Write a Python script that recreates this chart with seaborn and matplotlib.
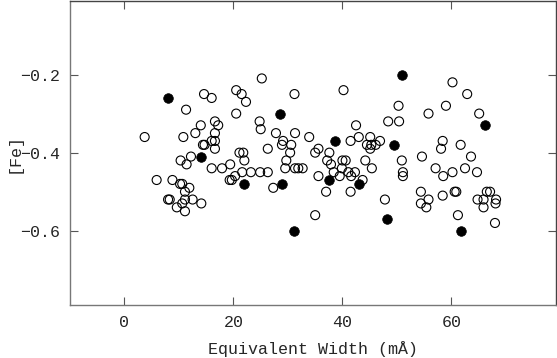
import matplotlib
matplotlib.use('Agg')
import matplotlib.pyplot as plt
import seaborn as sns
import pandas as pd

# open circles
open_x = [3.7, 5.9, 8.8, 10.2, 10.6, 11.9, 11.1, 8.0, 8.3, 11.1, 12.5, 10.6, 9.6, 14.1, 11.1,
          10.3, 11.4, 12.2, 10.8, 11.3, 13.0, 14.0, 14.6, 16.0, 16.6, 17.2, 16.6, 16.0, 16.6,
          14.4, 14.7, 16.6, 16.0, 17.9, 19.4, 19.3, 19.7, 20.3, 21.1, 21.8, 22.0, 21.6, 23.2,
          24.9, 26.3, 27.3, 20.5, 21.5, 22.3, 20.5, 25.2, 24.8, 25.0, 26.3, 27.8, 29.1, 28.9,
          30.6, 30.4, 29.7, 29.5, 31.3, 31.9, 32.7, 31.2, 31.3, 33.9, 35.6, 35.0, 37.6, 37.2,
          37.9, 35.6, 37.0, 35.0, 40.2, 42.5, 41.5, 43.0, 45.1, 46.9, 44.5, 45.3, 46.1, 45.1,
          40.0, 40.6, 44.2, 45.4, 39.9, 38.4, 41.1, 42.3, 39.5, 41.6, 43.7, 41.5, 47.8, 48.4,
          50.4, 50.3, 50.9, 51.1, 51.1, 54.6, 55.8, 54.4, 55.8, 54.4, 55.4, 58.1, 58.4, 57.1,
          58.5, 58.4, 59.0, 60.2, 62.9, 65.1, 61.7, 63.6, 62.5, 60.2, 64.7, 60.6, 60.9, 66.5,
          67.1, 64.8, 65.9, 68.2, 68.1, 65.9, 61.2, 68.0]
open_fe = [-0.36, -0.47, -0.47, -0.48, -0.48, -0.49, -0.50, -0.52, -0.52, -0.52, -0.52, -0.53, -0.54, -0.53, -0.55,
           -0.42, -0.43, -0.41, -0.36, -0.29, -0.35, -0.33, -0.25, -0.26, -0.32, -0.33, -0.35, -0.37, -0.37,
           -0.38, -0.38, -0.39, -0.44, -0.44, -0.43, -0.47, -0.47, -0.46, -0.40, -0.40, -0.42, -0.45, -0.45,
           -0.45, -0.45, -0.49, -0.24, -0.25, -0.27, -0.30, -0.21, -0.32, -0.34, -0.39, -0.35, -0.37, -0.38,
           -0.38, -0.40, -0.42, -0.44, -0.44, -0.44, -0.44, -0.25, -0.35, -0.36, -0.39, -0.40, -0.40, -0.42,
           -0.43, -0.46, -0.50, -0.56, -0.24, -0.33, -0.37, -0.36, -0.36, -0.37, -0.38, -0.38, -0.38, -0.39,
           -0.42, -0.42, -0.42, -0.44, -0.44, -0.45, -0.45, -0.45, -0.46, -0.46, -0.47, -0.50, -0.52, -0.32,
           -0.32, -0.28, -0.42, -0.45, -0.46, -0.41, -0.30, -0.50, -0.52, -0.53, -0.54, -0.39, -0.37, -0.44,
           -0.46, -0.51, -0.28, -0.22, -0.25, -0.30, -0.38, -0.41, -0.44, -0.45, -0.45, -0.50, -0.50, -0.50,
           -0.50, -0.52, -0.52, -0.52, -0.53, -0.54, -0.56, -0.58]

# filled circles
filled_x = [8.0, 14.1, 22.0, 28.6, 28.9, 31.1, 37.5, 38.6, 43.0, 48.1, 49.5, 50.9, 61.7, 66.2]
filled_fe = [-0.26, -0.41, -0.48, -0.30, -0.48, -0.60, -0.47, -0.37, -0.48, -0.57, -0.38, -0.20, -0.60, -0.33]

x_ticks = [0, 20, 40, 60]
y_ticks = [-0.6, -0.4, -0.2]

df_open = pd.DataFrame({'ew': open_x, 'fe': open_fe})
df_filled = pd.DataFrame({'ew': filled_x, 'fe': filled_fe})

sns.set_style('ticks')
plt.rcParams['font.family'] = ['Liberation Mono', 'DejaVu Sans Mono']
plt.rcParams['axes.unicode_minus'] = True

fig = plt.figure(figsize=(5.57, 3.58), dpi=100)
ax = fig.add_axes([0.1257, 0.148, 0.8725, 0.849])

sns.scatterplot(data=df_open, x='ew', y='fe', ax=ax, s=42, facecolors='none',
                edgecolor='black', linewidth=0.8, zorder=3)
sns.scatterplot(data=df_filled, x='ew', y='fe', ax=ax, s=48, color='black',
                edgecolor='black', linewidth=0.5, zorder=4)

ax.set_xlim(-10, 79.2)
ax.set_ylim(-0.79, -0.012)
ax.set_xticks(x_ticks)
ax.set_yticks(y_ticks)
ax.set_yticklabels(['\u22120.6', '\u22120.4', '\u22120.2'])

ax.tick_params(direction='in', length=6, width=0.8, color='#555555', labelsize=12,
               top=True, right=True, pad=7)
for side in ['left', 'bottom']:
    ax.spines[side].set_color('#777777')
for side in ['top', 'right']:
    ax.spines[side].set_color('#444444')
for sp in ax.spines.values():
    sp.set_linewidth(1.0)

ax.set_xlabel('Equivalent Width (mÅ)', fontsize=12, labelpad=8)
ax.set_ylabel('[Fe]', fontsize=12)
ax.yaxis.set_label_coords(-0.1, 0.5)

fig.savefig('out.png', dpi=100)
